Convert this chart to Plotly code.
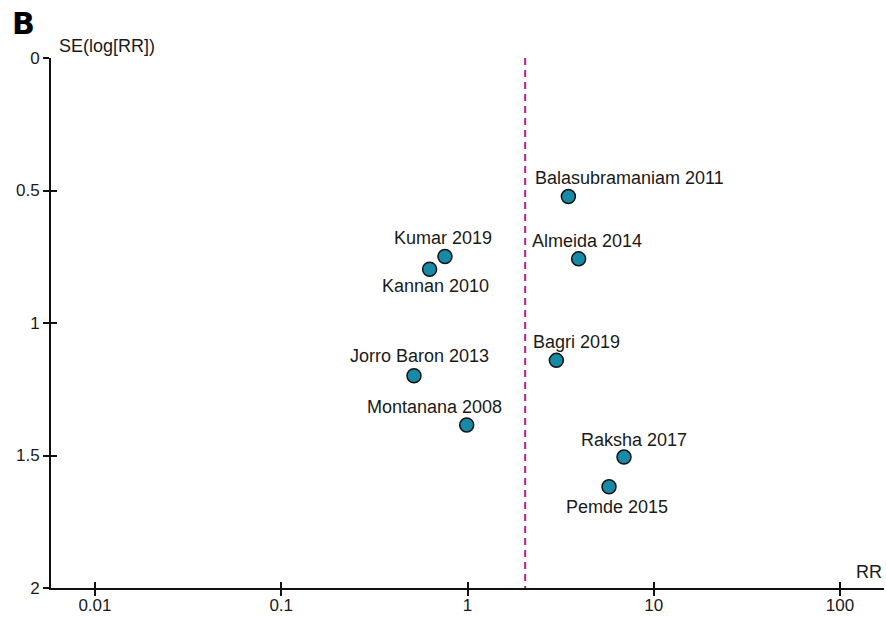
import math
import plotly.graph_objects as go

# ---- data ----
studies = ["Balasubramaniam 2011", "Almeida 2014", "Kumar 2019", "Kannan 2010",
           "Bagri 2019", "Jorro Baron 2013", "Montanana 2008", "Raksha 2017", "Pemde 2015"]
rr = [3.48, 3.95, 0.757, 0.626, 3.00, 0.516, 0.99, 6.92, 5.75]
se = [0.523, 0.758, 0.749, 0.797, 1.141, 1.199, 1.385, 1.506, 1.618]
pooled_rr = 2.04
x_ticks = [0.01, 0.1, 1, 10, 100]
x_ticklabels = ["0.01", "0.1", "1", "10", "100"]
y_ticks = [0, 0.5, 1, 1.5, 2]
y_ticklabels = ["0", "0.5", "1", "1.5", "2"]

# ---- label placement (pixel offsets from each point) ----
label_dx = [61, 8, -2, 6, 20, 6, -32, 10, 8]
label_dy = [19, 18, 18, -17, 18, 20, 18, 17, -20]

FONT = "Liberation Sans, Arial, sans-serif"
TEXT = "#1a1a1a"
XR = [-2.236, 2.236]
YR = [2, 0]

fig = go.Figure()

fig.add_trace(go.Scatter(
    x=[pooled_rr, pooled_rr], y=[y_ticks[0], y_ticks[-1]], mode="lines",
    line=dict(color="#b3208a", width=2, dash="7px,5px"),
    hoverinfo="skip", showlegend=False))

fig.add_trace(go.Scatter(
    x=rr, y=se, mode="markers", text=studies,
    marker=dict(size=14, color="#168aa6", line=dict(color="#111111", width=1.5)),
    showlegend=False))

# invisible trace on overlay axes (for crossing ticks)
fig.add_trace(go.Scatter(x=rr, y=se, xaxis="x2", yaxis="y2", mode="markers",
                         marker=dict(opacity=0), hoverinfo="skip", showlegend=False))

for name, xv, yv, dx, dy in zip(studies, rr, se, label_dx, label_dy):
    fig.add_annotation(x=math.log10(xv), y=yv, text=name, showarrow=False,
                       xshift=dx, yshift=dy, font=dict(family=FONT, size=18, color=TEXT))

axis_common = dict(showgrid=False, zeroline=False, automargin=False,
                   tickfont=dict(family=FONT, size=17, color=TEXT),
                   tickcolor="#111111", tickwidth=1.5, ticklen=6)

fig.update_layout(
    width=886, height=617,
    margin=dict(l=51, r=2, t=58, b=29),
    paper_bgcolor="white", plot_bgcolor="white",
    xaxis=dict(type="log", range=XR, tickvals=x_ticks, ticktext=x_ticklabels,
               ticks="outside", showline=True, linecolor="#111111", linewidth=2,
               ticklabelstandoff=-5, **axis_common),
    yaxis=dict(range=YR, tickvals=y_ticks, ticktext=y_ticklabels,
               ticks="outside", showline=True, linecolor="#111111", linewidth=2,
               **axis_common),
    xaxis2=dict(type="log", range=XR, overlaying="x", anchor="y", side="bottom",
                tickvals=x_ticks, ticks="inside", showticklabels=False, showline=False,
                automargin=False,
                showgrid=False, zeroline=False, tickcolor="#111111", tickwidth=1.5, ticklen=6),
    yaxis2=dict(range=YR, overlaying="y", anchor="x", side="left",
                tickvals=y_ticks, ticks="inside", showticklabels=False, showline=False,
                automargin=False,
                showgrid=False, zeroline=False, tickcolor="#111111", tickwidth=1.5, ticklen=6),
    font=dict(family=FONT, color=TEXT),
)

fig.add_annotation(xref="paper", yref="paper", x=1, y=0, text="RR", showarrow=False,
                   xanchor="right", yanchor="bottom", xshift=0, yshift=4,
                   font=dict(family=FONT, size=18, color=TEXT))
fig.add_annotation(xref="paper", yref="paper", x=0, y=1, text="SE(log[RR])", showarrow=False,
                   xanchor="left", yanchor="bottom", xshift=6, yshift=0,
                   font=dict(family=FONT, size=18, color=TEXT))
fig.add_annotation(xref="paper", yref="paper", x=0, y=1, text="<b>B</b>", showarrow=False,
                   xanchor="left", yanchor="top", xshift=-41, yshift=54,
                   font=dict(family="DejaVu Sans, sans-serif", size=30, color="#000000"))

fig.write_html("out.html")
